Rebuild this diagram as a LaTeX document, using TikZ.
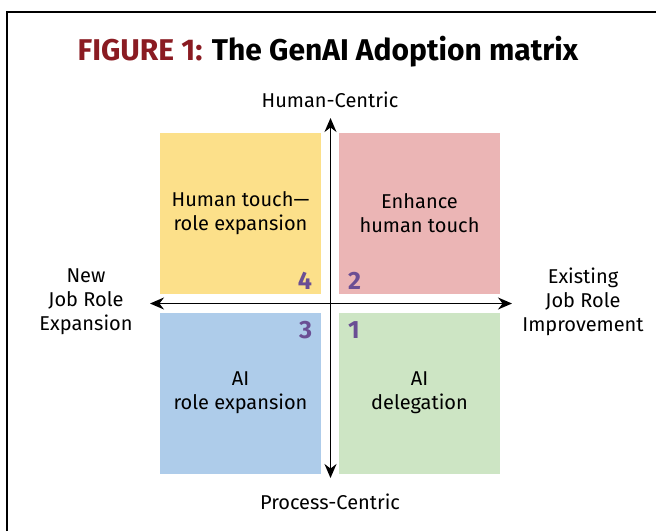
\documentclass[tikz,border=0pt]{standalone}
\usepackage{fontspec}
\setmainfont{Fira Sans}
\usetikzlibrary{positioning,arrows.meta}
\definecolor{titlered}{RGB}{138,27,34}
\definecolor{numpurple}{RGB}{106,78,148}
\definecolor{Ycolor}{RGB}{252,224,138}
\definecolor{Pcolor}{RGB}{235,181,181}
\definecolor{Bcolor}{RGB}{174,204,234}
\definecolor{Gcolor}{RGB}{205,229,196}

\begin{document}
\begin{tikzpicture}[x=1pt,y=-1pt,
    quad/.style={minimum width=161pt, minimum height=161pt, inner sep=0pt, align=center, font=\fontsize{20}{24}\selectfont},
    num/.style={inner sep=0pt, text=numpurple, font=\fontsize{25}{25}\selectfont\bfseries},
    lab/.style={align=center, inner sep=0pt, font=\fontsize{20}{24}\selectfont},
    axis/.style={line width=1.4pt, {Stealth[length=14pt,width=12pt]}-{Stealth[length=14pt,width=12pt]}}]
    \useasboundingbox (0,0) rectangle (656,531);
    \draw[line width=1.2pt] (7,531) -- (7,12) -- (656,12);

    \node[font=\fontsize{30}{32}\selectfont\bfseries] (title) at (328,52) {\textcolor{titlered}{FIGURE 1:} The GenAI Adoption matrix};

    % the four quadrants
    \node[quad, fill=Ycolor] (yellow) at (240.5,213.5) {Human touch---\\role expansion};
    \node[quad, fill=Pcolor] (pink) at (419.5,213.5) {Enhance\\human touch};
    \node[quad, fill=Bcolor] (blue) at (240.5,393) {AI\\role expansion};
    \node[quad, fill=Gcolor] (green) at (419.5,393) {AI\\delegation};

    \node[num, above left=5pt and 9pt of yellow.south east, anchor=south east] (n4) {4};
    \node[num, above right=5pt and 9pt of pink.south west, anchor=south west] (n2) {2};
    \node[num, below left=9pt and 9pt of blue.north east, anchor=north east] (n3) {3};
    \node[num, below right=9pt and 9pt of green.north west, anchor=north west] (n1) {1};

    % axes
    \coordinate (top) at (330.5,118);
    \coordinate (bottom) at (330.5,478);
    \coordinate (left) at (150,303.5);
    \coordinate (right) at (512,303.5);
    \draw[axis] (bottom) -- (top);
    \draw[axis] (left) -- (right);

    \node[lab] (human) at (330,100) {Human-Centric};
    \node[lab] (process) at (330,502) {Process-Centric};
    \node[lab] (new) at (86,302) {New\\Job Role\\Expansion};
    \node[lab] (existing) at (583,302) {Existing\\Job Role\\Improvement};
\end{tikzpicture}
\end{document}
